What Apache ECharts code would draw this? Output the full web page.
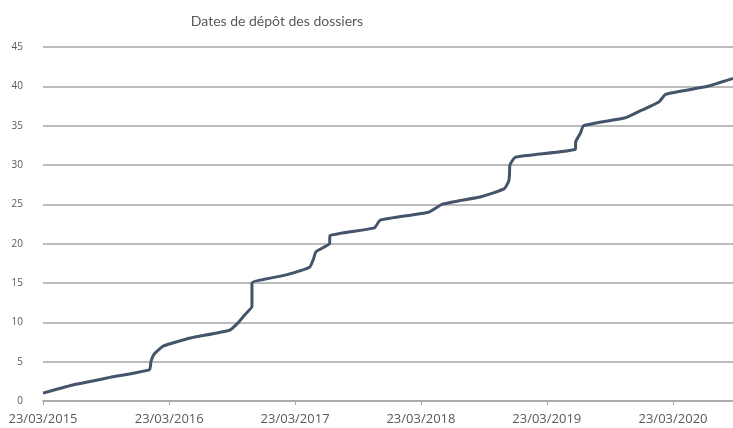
<!DOCTYPE html>
<html>
<head>
<meta charset="utf-8">
<script src="https://cdn.jsdelivr.net/npm/echarts@6/dist/echarts.min.js"></script>
<style>
  html, body { margin: 0; padding: 0; background: #fff; }
  #chart { width: 733px; height: 428px; }
</style>
</head>
<body>
<div id="chart"></div>
<script>
// dates de dépôt et nombre cumulé de dossiers
var dates = [
  "2015-03-23", "2015-06-15", "2015-10-04", "2016-01-26", "2016-01-30",
  "2016-02-09", "2016-03-07", "2016-05-23", "2016-09-14", "2016-10-10",
  "2016-10-29", "2016-11-18", "2016-11-18", "2016-11-18", "2016-11-18",
  "2017-02-22", "2017-05-04", "2017-05-15", "2017-05-23", "2017-07-01",
  "2017-07-02", "2017-11-08", "2017-11-25", "2018-04-14", "2018-05-23",
  "2018-09-16", "2018-11-20", "2018-12-03", "2018-12-05", "2018-12-06",
  "2018-12-22", "2019-06-14", "2019-06-15", "2019-06-28", "2019-07-08",
  "2019-11-06", "2019-12-25", "2020-02-11", "2020-03-02", "2020-07-01",
  "2020-09-13"
];
var cumul = [
  1, 2, 3, 4, 5, 6, 7, 8, 9, 10,
  11, 12, 13, 14, 15, 16, 17, 18, 19, 20,
  21, 22, 23, 24, 25, 26, 27, 28, 29, 30,
  31, 32, 33, 34, 35, 36, 37, 38, 39, 40,
  41
];
var yTicks = [0, 5, 10, 15, 20, 25, 30, 35, 40, 45];
var xTicks = ["2015-03-23", "2016-03-23", "2017-03-23", "2018-03-23", "2019-03-23", "2020-03-23"];

function ts(s) {
  var p = s.split("-");
  return new Date(+p[0], +p[1] - 1, +p[2]).getTime();
}
function pad(n) { return n < 10 ? "0" + n : "" + n; }
function fmt(v) {
  var d = new Date(Math.round(v));
  return pad(d.getDate()) + "/" + pad(d.getMonth() + 1) + "/" + d.getFullYear();
}

var chart = echarts.init(document.getElementById("chart"));
var xTickTs = xTicks.map(ts);
var txtColor = "#595959";

chart.setOption({
  animation: false,
  title: {
    text: "Dates de dépôt des dossiers",
    left: 272,
    textAlign: "center",
    top: 9,
    textStyle: { fontSize: 14, fontWeight: "normal", color: txtColor, fontFamily: "Lato" }
  },
  grid: { left: 43, right: 0, top: 47, bottom: 27 },
  xAxis: {
    type: "value",
    min: ts("2015-03-23"),
    max: ts("2020-09-13"),
    axisLine: { lineStyle: { color: "#a6a6a6", width: 1.5 } },
    axisTick: { show: true, length: 4, customValues: xTickTs, lineStyle: { color: "#a6a6a6" } },
    axisLabel: {
      customValues: xTickTs,
      margin: 12,
      fontSize: 13,
      color: txtColor,
      fontFamily: "Open Sans",
      formatter: fmt
    },
    splitLine: { show: false }
  },
  yAxis: {
    type: "value",
    min: yTicks[0],
    max: yTicks[yTicks.length - 1],
    interval: 5,
    axisLine: { show: false },
    axisTick: { show: false },
    axisLabel: { fontSize: 10, color: txtColor, margin: 20, fontFamily: "Open Sans" },
    splitLine: { lineStyle: { color: "#a6a6a6", width: 1.5 } }
  },
  series: [{
    type: "line",
    data: dates.map(function (d, i) { return [ts(d), cumul[i]]; }),
    showSymbol: false,
    smooth: 0.15,
    lineStyle: { color: "#44546a", width: 3 },
    itemStyle: { color: "#44546a" }
  }]
});
</script>
</body>
</html>
